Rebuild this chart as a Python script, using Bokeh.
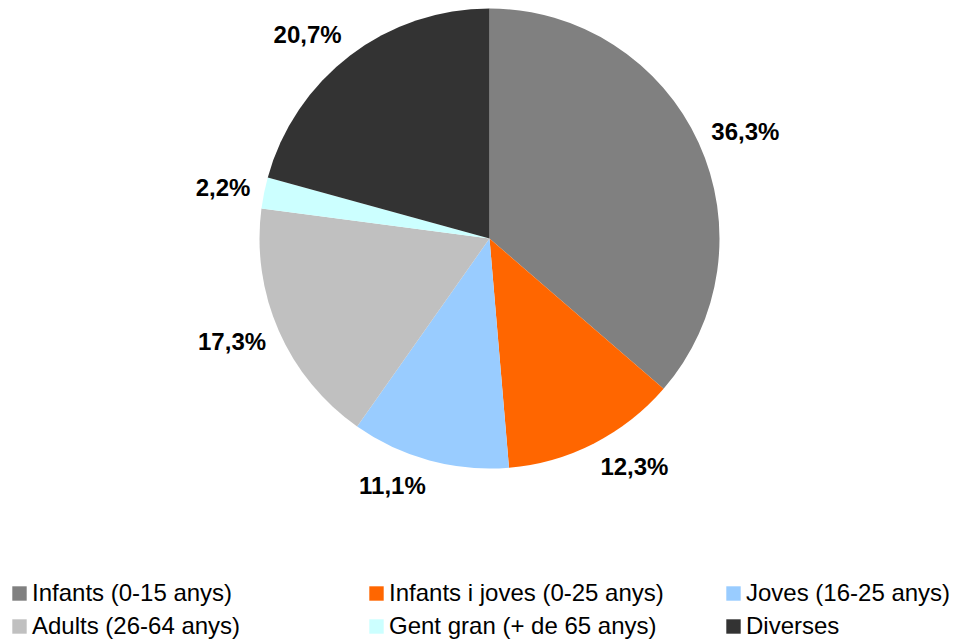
import numpy as np
from bokeh.plotting import figure
from bokeh.models import ColumnDataSource, Legend, LegendItem, Range1d
from bokeh.core.properties import value
from bokeh.embed import file_html
from bokeh.resources import INLINE

categories = ["Infants (0-15 anys)", "Infants i joves (0-25 anys)", "Joves (16-25 anys)",
              "Adults (26-64 anys)", "Gent gran (+ de 65 anys)", "Diverses"]
values = [36.3, 12.3, 11.1, 17.3, 2.2, 20.7]
colors = ["#808080", "#FF6600", "#99CCFF", "#C0C0C0", "#CCFFFF", "#333333"]

W, H = 957, 642
cx, cy, r = 489, 404, 230
R_LABEL_X = 244
R_LABEL_Y = 256

vals = np.array(values)
frac = vals / vals.sum()
cum_after = np.cumsum(frac)
cum_before = cum_after - frac
start = np.pi / 2 - cum_after * 2 * np.pi
end = np.pi / 2 - cum_before * 2 * np.pi
theta = (cum_before + frac / 2) * 2 * np.pi  # clockwise from top

labels = [f"{v:.1f}".replace(".", ",") + "%" for v in values]

src = ColumnDataSource(dict(start=start, end=end, color=colors, cat=categories))
lsrc = ColumnDataSource(dict(
    x=cx + R_LABEL_X * np.sin(theta),
    y=cy + R_LABEL_Y * np.cos(theta),
    text=labels,
    align=["left" if s >= 0 else "right" for s in np.sin(theta)],
))

p = figure(width=W, height=H, output_backend="svg", toolbar_location=None,
           x_range=Range1d(0, W), y_range=Range1d(0, H),
           x_axis_type=None, y_axis_type=None, min_border=0)
p.outline_line_color = None
p.grid.visible = False

wr = p.wedge(x=cx, y=cy, radius=r, start_angle="start", end_angle="end",
             fill_color="color", line_color=None, source=src)

p.text(x="x", y="y", text="text", text_align="align", text_baseline="middle",
       text_font=value("Liberation Sans"), text_font_style="bold",
       text_font_size="24px", text_color="black", source=lsrc)

legend = Legend(items=[LegendItem(label=c, renderers=[wr], index=i) for i, c in enumerate(categories)],
                ncols=3, orientation="horizontal", location=(10, 2),
                glyph_width=18, glyph_height=18, label_standoff=4,
                label_width=330, label_height=28, spacing=5,
                padding=0, margin=0, border_line_color=None, background_fill_alpha=0,
                label_text_font="Liberation Sans", label_text_font_size="24px",
                label_text_color="black")
p.add_layout(legend)

open("out.html", "w").write(file_html(p, INLINE))
